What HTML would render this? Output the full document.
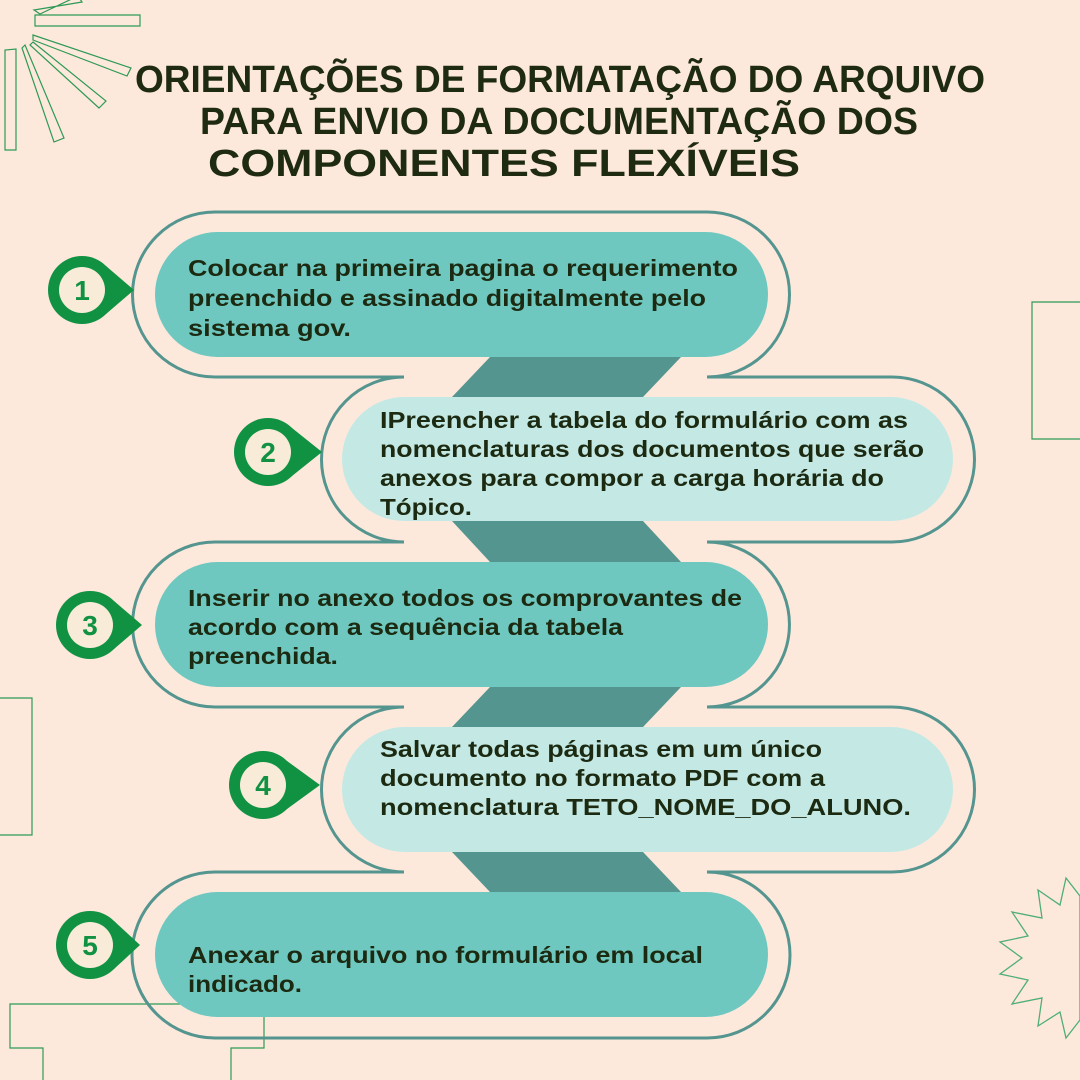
<!DOCTYPE html>
<html><head><meta charset="utf-8"><style>
html,body{margin:0;padding:0;background:#fde9dc;}
svg{display:block}
.t{font-family:"Liberation Sans",sans-serif;font-weight:bold;fill:#1e2b10}
.b{font-family:"Liberation Sans",sans-serif;font-weight:bold;fill:#1c2a12;font-size:23px}
</style></head><body>
<svg width="1080" height="1080" viewBox="0 0 1080 1080" xmlns="http://www.w3.org/2000/svg">
<rect width="1080" height="1080" fill="#fde9dc"/>
<g fill="none" stroke="#2e9a55" stroke-width="1.2">
<polygon points="35,15 140,15 140,26 35,26"/>
<polygon points="40,14 78,-4 82,2 34,10"/>
<polygon points="33,35 131,68 127,76 33,40"/>
<polygon points="33,42 106,101 99,108 30,45"/>
<polygon points="25,45 64,138 54,142 22,48"/>
<polygon points="16,49 16,150 5,150 5,50"/>
<polyline points="1080,302 1032,302 1032,439 1080,439"/>
<polyline points="0,698 32,698 32,835 0,835"/>
<polyline points="43,1080 43,1048 10,1048 10,1004 264,1004 264,1048 231,1048 231,1080"/>
</g>
<g fill="none" stroke="#4fae75" stroke-width="1.3">
<polygon points="1066,878 1060,905 1038,890 1042,918 1012,912 1028,936 1000,942 1022,958 1000,974 1028,980 1012,1004 1042,998 1038,1026 1060,1012 1066,1038 1080,1020 1080,896"/>
</g>
<polygon points="490,357 681,357 643,397 452,397" fill="#55958f"/>
<polygon points="452,521 643,521 681,562 490,562" fill="#55958f"/>
<polygon points="490,687 681,687 643,727 452,727" fill="#55958f"/>
<polygon points="452,852 643,852 681,892 490,892" fill="#55958f"/>
<g fill="none" stroke="#55958f" stroke-width="3">
<path d="M215,212 L707,212 A82.5,82.5 0 0 1 707,377 L892,377 A82.5,82.5 0 0 1 892,542 L707,542 A82.5,82.5 0 0 1 707,707 L892,707 A82.5,82.5 0 0 1 892,872 L707,872 A82.5,82.5 0 0 1 707,1038 L215,1038 A82.5,82.5 0 0 1 215,872 L404,872 A82.5,82.5 0 0 1 404,707 L215,707 A82.5,82.5 0 0 1 215,542 L404,542 A82.5,82.5 0 0 1 404,377 L215,377 A82.5,82.5 0 0 1 215,212 Z"/>
</g>
<rect x="155" y="232" width="613" height="125" rx="62.5" fill="#6ec8c0"/>
<rect x="342" y="397" width="611" height="124" rx="62" fill="#c4e9e4"/>
<rect x="155" y="562" width="613" height="125" rx="62.5" fill="#6ec8c0"/>
<rect x="342" y="727" width="611" height="125" rx="62.5" fill="#c4e9e4"/>
<rect x="155" y="892" width="613" height="125" rx="62.5" fill="#6ec8c0"/>
<g fill="#119243">
<circle cx="82" cy="290" r="34"/><polygon points="106,266 134,290 106,314"/>
<circle cx="268" cy="452" r="34"/><polygon points="292,428 322,452 292,476"/>
<circle cx="90" cy="625" r="34"/><polygon points="114,601 142,625 114,649"/>
<circle cx="263" cy="785" r="34"/><polygon points="287,761 320,785 287,809"/>
<circle cx="90" cy="945" r="34"/><polygon points="114,921 140,945 114,969"/>
</g>
<g fill="#f8ecd8">
<circle cx="82" cy="290" r="23"/><circle cx="268" cy="452" r="23"/><circle cx="90" cy="625" r="23"/><circle cx="263" cy="785" r="23"/><circle cx="90" cy="945" r="23"/>
</g>
<g font-family="Liberation Sans,sans-serif" font-size="28" font-weight="bold" fill="#119243" text-anchor="middle">
<text x="82" y="300">1</text><text x="268" y="462">2</text><text x="90" y="635">3</text><text x="263" y="795">4</text><text x="90" y="955">5</text>
</g>
<g class="t" font-size="38">
<text x="135" y="92" textLength="850" lengthAdjust="spacingAndGlyphs">ORIENTAÇÕES DE FORMATAÇÃO DO ARQUIVO</text>
<text x="200" y="134" textLength="718" lengthAdjust="spacingAndGlyphs">PARA ENVIO DA DOCUMENTAÇÃO DOS</text>
<text x="208" y="176" textLength="592" lengthAdjust="spacingAndGlyphs">COMPONENTES  FLEXÍVEIS</text>
</g>
<g class="b">
<text x="188" y="276" textLength="550" lengthAdjust="spacingAndGlyphs">Colocar na primeira pagina o requerimento</text>
<text x="188" y="306" textLength="518" lengthAdjust="spacingAndGlyphs">preenchido e assinado digitalmente pelo</text>
<text x="188" y="336" textLength="163" lengthAdjust="spacingAndGlyphs">sistema gov.</text>
<text x="380" y="428" textLength="528" lengthAdjust="spacingAndGlyphs">IPreencher a tabela do formulário com as</text>
<text x="380" y="457" textLength="544" lengthAdjust="spacingAndGlyphs">nomenclaturas dos documentos que serão</text>
<text x="380" y="486" textLength="504" lengthAdjust="spacingAndGlyphs">anexos para compor a carga horária do</text>
<text x="380" y="515" textLength="92" lengthAdjust="spacingAndGlyphs">Tópico.</text>
<text x="188" y="606" textLength="554" lengthAdjust="spacingAndGlyphs">Inserir no anexo todos os comprovantes de</text>
<text x="188" y="635" textLength="435" lengthAdjust="spacingAndGlyphs">acordo com a sequência da tabela</text>
<text x="188" y="664" textLength="150" lengthAdjust="spacingAndGlyphs">preenchida.</text>
<text x="380" y="757" textLength="442" lengthAdjust="spacingAndGlyphs">Salvar todas páginas em um único</text>
<text x="380" y="786" textLength="445" lengthAdjust="spacingAndGlyphs">documento no formato PDF com a</text>
<text x="380" y="815" textLength="531" lengthAdjust="spacingAndGlyphs">nomenclatura TETO_NOME_DO_ALUNO.</text>
<text x="188" y="963" textLength="515" lengthAdjust="spacingAndGlyphs">Anexar o arquivo no formulário em local</text>
<text x="188" y="992" textLength="114" lengthAdjust="spacingAndGlyphs">indicado.</text>
</g>
</svg>
</body></html>
